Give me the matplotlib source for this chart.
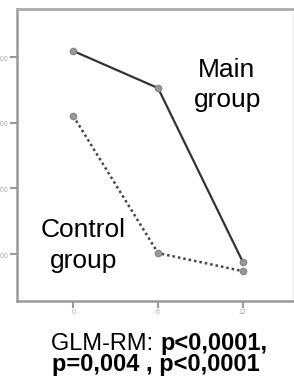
import matplotlib.pyplot as plt

plt.rcParams['font.family'] = ['Liberation Sans', 'DejaVu Sans']

months = [0, 6, 12]
main_group = [8.19, 7.06, 1.76]
control_group = [6.21, 2.03, 1.48]
y_ticks = [2, 4, 6, 8]
y_ticklabels = ['2,00', '4,00', '6,00', '8,00']

W, H = 294, 376
fig = plt.figure(figsize=(W / 100, H / 100), dpi=100)
ax = fig.add_axes([17 / W, 1 - 301 / H, 276 / W, 292 / H])

ax.plot(months, main_group, color='#333333', lw=1.6, solid_capstyle='round',
        marker='o', ms=4.5, mfc='#999999', mec='#888888')
ax.plot(months, control_group, color='#444444', lw=1.8, linestyle=(0, (1, 1.2)),
        marker='o', ms=4.5, mfc='#999999', mec='#888888')

ax.set_xlim(-3.98, 15.55)
ax.set_ylim(0.57, 9.47)
ax.set_xticks(months)
ax.set_xticklabels([str(m) for m in months])
ax.set_yticks(y_ticks)
ax.set_yticklabels(y_ticklabels)
ax.tick_params(axis='both', colors='#999999', labelcolor='#aaaaaa', labelsize=5,
               length=5, width=1.5, pad=1)

for side in ['left', 'bottom']:
    ax.spines[side].set_color('#999999')
    ax.spines[side].set_linewidth(1.8)
ax.spines['top'].set_color('#aaaaaa')
ax.spines['top'].set_linewidth(2)
ax.spines['right'].set_color('#eeeeee')
ax.spines['right'].set_linewidth(1)


def px_text(x, y, s, **kw):
    # place text by pixel position (from top-left), baseline aligned
    fig.text(x / W, 1 - y / H, s, va='baseline', **kw)


px_text(226, 77, 'Main', ha='center', fontsize=19)
px_text(228, 107, 'group', ha='center', fontsize=19)
px_text(83, 237, 'Control', ha='center', fontsize=19)
px_text(84, 268, 'group', ha='center', fontsize=19)

px_text(160, 350, 'GLM-RM: ', ha='right', fontsize=17)
px_text(160, 350, 'p<0,0001,', ha='left', fontsize=17, fontweight='bold')
px_text(52, 371, 'p=0,004 , p<0,0001', ha='left', fontsize=17, fontweight='bold')

fig.savefig('out.png', dpi=100)
